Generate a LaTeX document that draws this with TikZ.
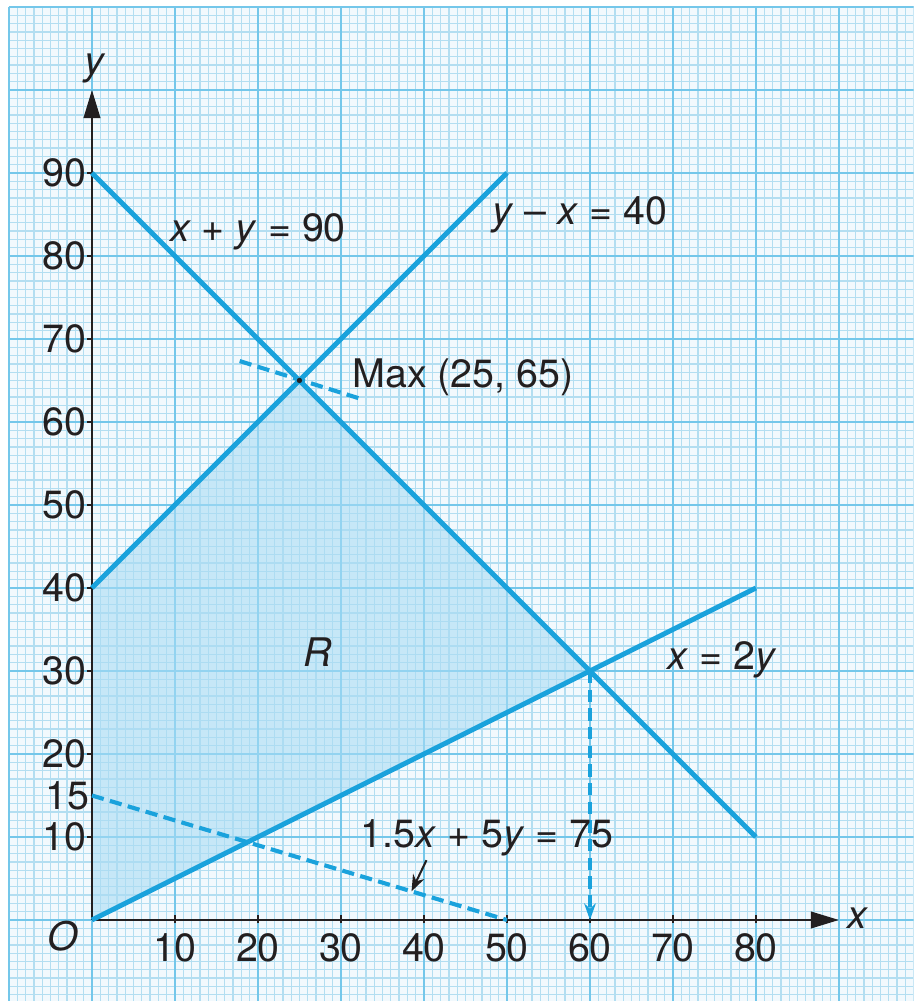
\documentclass[tikz,border=0pt]{standalone}
\usepackage{fontspec}
\setmainfont{TeX Gyre Heros}
\usetikzlibrary{arrows.meta,positioning,calc}
\definecolor{PaperBg}{HTML}{F2F9FD}
\definecolor{PaperMinor}{HTML}{B3DEF1}
\definecolor{PaperMajor}{HTML}{74C7EA}
\definecolor{LineBlue}{HTML}{1AA2DC}
\definecolor{RegionBlue}{HTML}{A9DBF4}
\definecolor{InkGrey}{HTML}{231F20}
\newcommand{\vx}{\textit{x}}
\newcommand{\vy}{\textit{y}}

\begin{document}
\begin{tikzpicture}[x=1mm,y=1mm,
    minorgrid/.style={PaperMinor,line width=0.45pt},
    majorgrid/.style={PaperMajor,line width=0.9pt},
    constr/.style={LineBlue,line width=1.7pt},
    dashln/.style={LineBlue,line width=1.4pt,dash pattern=on 4.2pt off 2.2pt},
    axis/.style={InkGrey,line width=0.75pt,-{Triangle[length=3.4mm,width=2mm]}},
    lbl/.style={font=\fontsize{13.5}{16}\selectfont,text=InkGrey,inner sep=0pt}
  ]
    \useasboundingbox (-11.08,-9.76) rectangle (99.0,110.84);
    \begin{scope}
      \clip (-11.08,-9.76) rectangle (99.0,110.84);
      \fill[PaperBg] (-10,-20) rectangle (110,110);
      \draw[minorgrid] (-10,-20) grid[step=1] (110,110);
      \draw[majorgrid] (-10,-20) grid[step=10] (110,110);
    \end{scope}
    \coordinate (O) at (0,0);
    \coordinate (yforty) at (0,40);
    \coordinate (ymax) at (0,90);
    \coordinate (yfifteen) at (0,15);
    \coordinate (opt) at (25,65);
    \coordinate (corner) at (60,30);
    \coordinate (xsixty) at (60,0);
    \coordinate (xfifty) at (50,0);
    \coordinate (endsum) at (80,10);
    \coordinate (enddiff) at (50,90);
    \coordinate (endhalf) at (80,40);
    \coordinate (objA) at (17.8,67.34);
    \coordinate (objB) at (32.5,62.75);
    \coordinate (onobj) at (38.5,3.45);
    \fill[RegionBlue,opacity=0.6] (O) -- (yforty) -- (opt) -- (corner) -- cycle;
    \draw[axis] (O) -- (90,0) coordinate (xend);
    \draw[axis] (O) -- (0,100) coordinate (yend);
    \foreach \t in {10,20,...,80} {
      \draw[InkGrey,line width=0.75pt] (\t,-0.4) -- (\t,0.6);
      \node[lbl] (xl\t) at (\t,-3.4) {\t};
    }
    \foreach \t in {10,20,...,90} {
      \draw[InkGrey,line width=0.75pt] (-0.6,\t) -- (0,\t);
      \node[lbl,anchor=east] (yl\t) at (-0.6,\t) {\t};
    }
    \node[lbl,anchor=east] (yl15) at (-0.2,15) {15};
    \draw[constr] (ymax) -- (endsum);
    \draw[constr] (yforty) -- (enddiff);
    \draw[constr] (O) -- (endhalf);
    \draw[dashln] (yfifteen) -- (xfifty);
    \draw[dashln] (objA) -- (objB);
    \draw[dashln,-{Stealth[length=2mm,width=1.4mm]}] (corner) -- (xsixty);
    \fill[InkGrey] (opt) circle (0.32);
    \node[lbl] (olbl) at (-3.5,-2.0) {\textit{O}};
    \node[lbl] (xlbl) at (92.3,0.2) {\vx};
    \node[lbl] (ylbl) at (0.4,102.6) {\vy};
    \node[lbl] (sumlbl) at (20,82.9) {\vx{} + \vy{} = 90};
    \node[lbl] (difflbl) at (58.8,84.9) {\vy{} – \vx{} = 40};
    \node[lbl,anchor=west] (maxlbl) at (31.3,65.4) {Max (25, 65)};
    \node[lbl] (rlbl) at (27.2,32.3) {\textit{R}};
    \node[lbl] (halflbl) at (75.9,31.3) {\vx{} = 2\vy};
    \node[lbl] (objlbl) at (47.6,9.9) {1.5\vx{} + 5\vy{} = 75};
    \draw[InkGrey,line width=0.7pt,-{Stealth[length=2mm,width=1.5mm]}] (40.3,7.2) -- (onobj);
\end{tikzpicture}
\end{document}
